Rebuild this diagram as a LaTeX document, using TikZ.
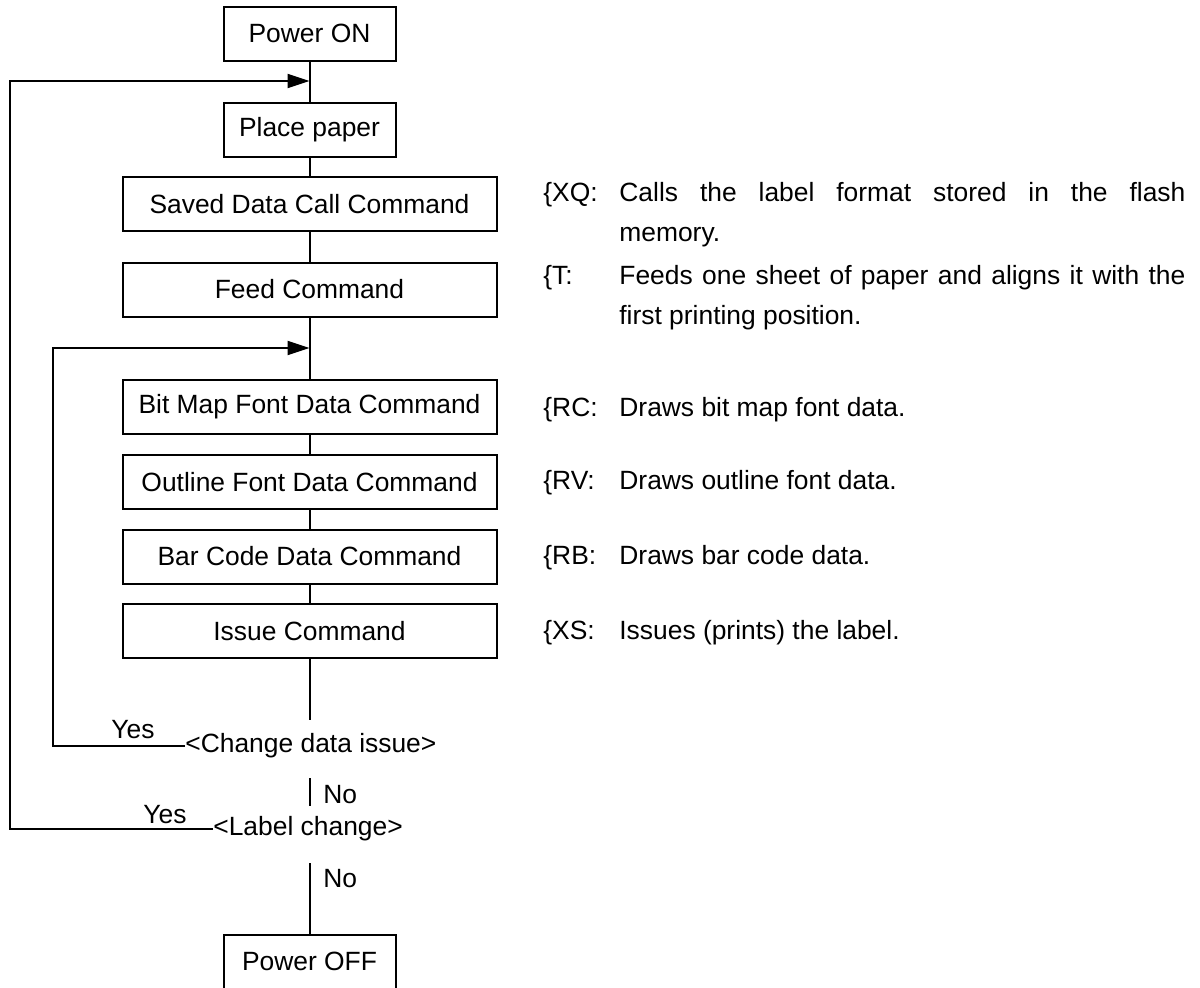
\documentclass[tikz,border=0pt]{standalone}
\usepackage{fontspec}
\setmainfont{Liberation Sans}
\usetikzlibrary{arrows.meta}

\tikzstyle{flow-box}=[draw, line width=1pt, minimum height=27pt, inner sep=0pt]
\tikzstyle{flow-wide}=[flow-box, minimum width=187pt]
\tikzstyle{flow-narrow}=[flow-box, minimum width=86pt]
\tikzstyle{flow-line}=[line width=1pt]
\tikzstyle{flow-loop}=[flow-line, -{Triangle[length=11pt, width=7pt]}]
\tikzstyle{flow-ask}=[anchor=west, inner sep=0pt]
\tikzstyle{answer}=[anchor=base, inner sep=0pt]
\tikzstyle{cmd-key}=[anchor=base west, inner sep=0pt]
\tikzstyle{cmd-text}=[anchor=base west, inner sep=0pt, text width=283pt, align=justify]

\begin{document}
\begin{tikzpicture}[x=0.5pt, y=-0.5pt, font=\fontsize{13.2}{20}\selectfont]
      \useasboundingbox (0,0) rectangle (1200,987);

      \node (box-on) at (309.5,33.5) [flow-narrow] {Power ON};
      \node (box-paper) at (309.5,129.5) [flow-narrow] {Place paper};
      \node (box-call) at (309.5,204) [flow-wide] {Saved Data Call Command};
      \node (box-feed) at (309.5,289.5) [flow-wide] {Feed Command};
      \node (box-bitmap) at (309.5,407) [flow-wide] {Bit Map Font Data Command};
      \node (box-outline) at (309.5,482) [flow-wide] {Outline Font Data Command};
      \node (box-barcode) at (309.5,556.5) [flow-wide] {Bar Code Data Command};
      \node (box-issue) at (309.5,631) [flow-wide] {Issue Command};
      \node (box-off) at (309.5,961.5) [flow-narrow] {Power OFF};

      \node (ask-change) at (185,746) [flow-ask] {<Change data issue>};
      \node (ask-label) at (213,829) [flow-ask] {<Label change>};

      \coordinate (join-1) at (309.5,81);
      \coordinate (back-1) at (10,81);
      \coordinate (join-2) at (309.5,348);
      \coordinate (back-2) at (53,348);
      \coordinate (gap-top) at (309.5,720);
      \coordinate (no-1-top) at (309.5,778);
      \coordinate (no-1-bot) at (309.5,806);
      \coordinate (no-2-top) at (309.5,863);

      \draw[flow-line] (box-on) -- (box-paper);
      \draw[flow-line] (box-paper) -- (box-call);
      \draw[flow-line] (box-call) -- (box-feed);
      \draw[flow-line] (box-feed) -- (box-bitmap);
      \draw[flow-line] (box-bitmap) -- (box-outline);
      \draw[flow-line] (box-outline) -- (box-barcode);
      \draw[flow-line] (box-barcode) -- (box-issue);
      \draw[flow-line] (box-issue) -- (gap-top);
      \draw[flow-line] (no-1-top) -- (no-1-bot);
      \draw[flow-line] (no-2-top) -- (box-off);

      \draw[flow-loop] (ask-change.west) -| (back-2) -- (join-2);
      \draw[flow-loop] (ask-label.west) -| (back-1) -- (join-1);

      \node (yes-1) at (133,738) [answer] {Yes};
      \node (yes-2) at (165,823) [answer] {Yes};
      \node (no-1) at (323,803) [cmd-key] {No};
      \node (no-2) at (323,887) [cmd-key] {No};

      \node (key-xq) at (543,201) [cmd-key] {\{XQ:};
      \node (text-xq) at (619,201) [cmd-text] {Calls the label format stored in the flash\linebreak memory.};
      \node (key-t) at (543,284) [cmd-key] {\{T:};
      \node (text-t) at (619,284) [cmd-text] {Feeds one sheet of paper and aligns it with the first printing position.};
      \node (key-rc) at (543,416) [cmd-key] {\{RC:};
      \node (text-rc) at (619,416) [cmd-key] {Draws bit map font data.};
      \node (key-rv) at (543,489) [cmd-key] {\{RV:};
      \node (text-rv) at (619,489) [cmd-key] {Draws outline font data.};
      \node (key-rb) at (543,564) [cmd-key] {\{RB:};
      \node (text-rb) at (619,564) [cmd-key] {Draws bar code data.};
      \node (key-xs) at (543,639) [cmd-key] {\{XS:};
      \node (text-xs) at (619,639) [cmd-key] {Issues (prints) the label.};
    \end{tikzpicture}
\end{document}
